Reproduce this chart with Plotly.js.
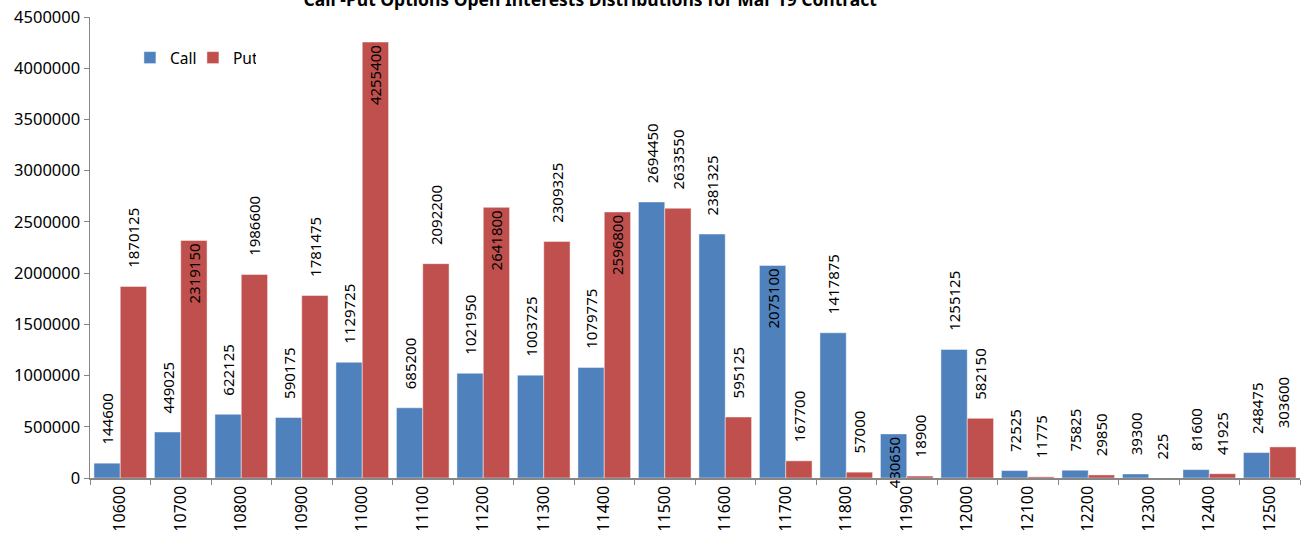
<!DOCTYPE html>
<html>
<head>
<meta charset="utf-8">
<script src="https://cdn.plot.ly/plotly-3.0.1.min.js"></script>
<style>html,body{margin:0;padding:0;background:#fff;}#chart{width:1303px;height:537px;}</style>
</head>
<body>
<div id="chart"></div>
<script>
const strikes = ["10600","10700","10800","10900","11000","11100","11200","11300","11400","11500","11600","11700","11800","11900","12000","12100","12200","12300","12400","12500"];
const callOI = [144600,449025,622125,590175,1129725,685200,1021950,1003725,1079775,2694450,2381325,2075100,1417875,430650,1255125,72525,75825,39300,81600,248475];
const putOI = [1870125,2319150,1986600,1781475,4255400,2092200,2641800,2309325,2596800,2633550,595125,167700,57000,18900,582150,11775,29850,225,41925,303600];

// label placement (style): 'inside' where the reference draws the label inside the bar top
const callLabelPos = strikes.map((s) => (s === "11700" || s === "11900") ? "inside" : "outside");
const putLabelPos = strikes.map((s) => (s === "10700" || s === "11000" || s === "11200" || s === "11400") ? "inside" : "outside");

const FONT = "Noto Sans, DejaVu Sans, sans-serif";
const pad = "\u00a0\u00a0\u00a0\u00a0";

function barTrace(name, vals, color, pos) {
  return {
    type: "bar",
    name: name,
    x: strikes,
    y: vals,
    text: vals.map(v => pad + String(v)),
    texttemplate: "%{text}",
    textposition: pos,
    textangle: -90,
    insidetextanchor: "end",
    constraintext: "none",
    cliponaxis: false,
    textfont: {family: FONT, size: 15, color: "#000"},
    insidetextfont: {family: FONT, size: 15, color: "#000"},
    outsidetextfont: {family: FONT, size: 15, color: "#000"},
    marker: {color: color, line: {color: "rgba(255,255,255,0.45)", width: 1}},
    hoverinfo: "x+y+name"
  };
}

const data = [
  barTrace("Call", callOI, "#4F81BD", callLabelPos),
  barTrace("Put", putOI, "#C0504D", putLabelPos)
];

const layout = {
  width: 1303,
  height: 537,
  paper_bgcolor: "#fff",
  plot_bgcolor: "#fff",
  margin: {l: 90, r: 3, t: 17, b: 59},
  barmode: "group",
  bargap: 0.13,
  bargroupgap: 0,
  font: {family: FONT, size: 15, color: "#000"},
  title: {
    text: "<b>Call -Put Options Open Interests Distributions for Mar 19 Contract</b>",
    font: {family: FONT, size: 17.5, color: "#000"},
    x: 0.453, xref: "container", xanchor: "center",
    y: 1, yref: "container", yanchor: "middle"
  },
  showlegend: true,
  legend: {
    orientation: "h",
    x: 0.033, xanchor: "left",
    y: 0.911, yanchor: "middle",
    font: {family: FONT, size: 15.5, color: "#000"},
    bgcolor: "rgba(0,0,0,0)",
    itemwidth: 30,
    entrywidth: 18,
    entrywidthmode: "pixels",
    tracegroupgap: 0
  },
  xaxis: {
    type: "category",
    tickangle: -90,
    ticks: "outside",
    tickson: "boundaries",
    ticklen: 5,
    tickcolor: "#868686",
    showline: true,
    linecolor: "#868686",
    linewidth: 1.5,
    showgrid: false,
    zeroline: false,
    automargin: false,
    tickfont: {family: FONT, size: 16, color: "#000"}
  },
  yaxis: {
    range: [0, 4500000],
    dtick: 500000,
    tick0: 0,
    tickformat: "d",
    ticks: "outside",
    ticklen: 5,
    tickcolor: "#868686",
    showline: true,
    linecolor: "#868686",
    linewidth: 1.5,
    showgrid: false,
    zeroline: false,
    automargin: false,
    tickfont: {family: FONT, size: 16.5, color: "#000"}
  }
};

Plotly.newPlot("chart", data, layout, {displayModeBar: false, staticPlot: true});
</script>
</body>
</html>
